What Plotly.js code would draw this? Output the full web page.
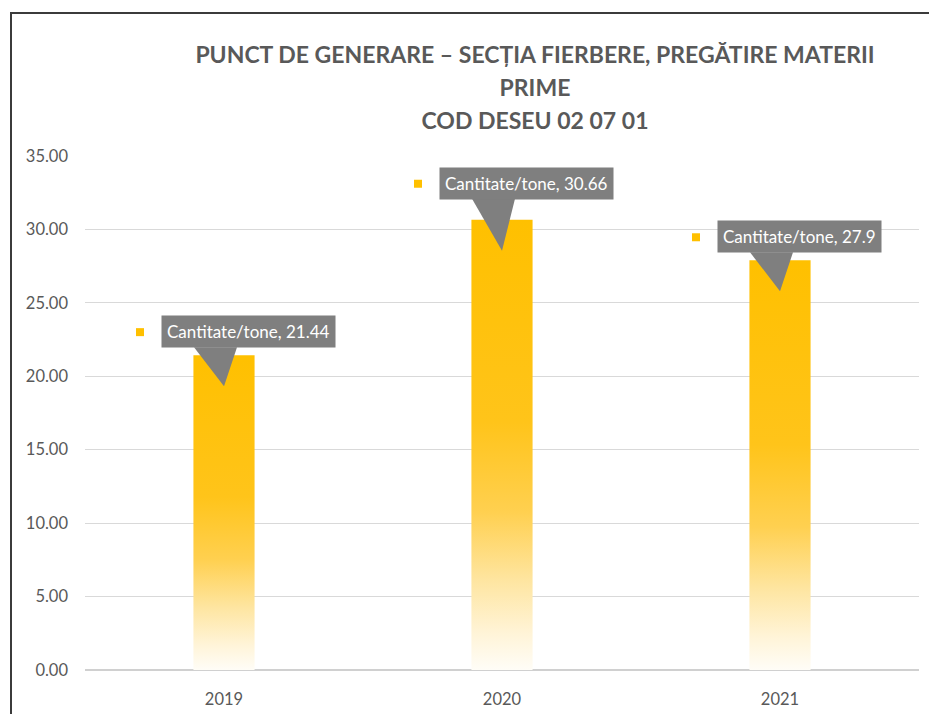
<!DOCTYPE html>
<html>
<head>
<meta charset="utf-8">
<script src="https://cdn.plot.ly/plotly-3.0.1.min.js"></script>
<style>
  html, body { margin: 0; padding: 0; background: #ffffff; overflow: hidden; }
  #chart { position: absolute; left: 0; top: 0; width: 929px; height: 714px; }
  #frame { position: absolute; left: 10px; top: 12px; width: 1000px; height: 1000px;
           border-left: 2px solid #3b3b3b; border-top: 2px solid #3b3b3b; pointer-events: none; }
</style>
</head>
<body>
<div id="chart"></div>
<div id="frame"></div>
<script>
// ---- data ----
const years = ['2019', '2020', '2021'];
const quantities = [21.44, 30.66, 27.9];
const seriesName = 'Cantitate/tone';
const titleLines = ['PUNCT DE GENERARE – SECȚIA FIERBERE, PREGĂTIRE MATERII', 'PRIME', 'COD DESEU 02 07 01'];
const yTickValues = [0, 5, 10, 15, 20, 25, 30, 35];

// ---- style / layout constants ----
const FONT = 'Lato, "Open Sans", sans-serif';
const GREY_TEXT = '#595959';
const GOLD = '#FFC000';
const calloutLiftPx = [7, 20, 7];

const xIdx = years.map((_, i) => i);

const bar = {
  type: 'bar',
  name: seriesName,
  x: xIdx,
  y: quantities,
  width: 0.22,
  marker: { color: GOLD, line: { width: 0 } },
  hoverinfo: 'skip'
};

const annotations = [];
const shapes = [];
quantities.forEach((v, i) => {
  const lift = calloutLiftPx[i];
  annotations.push({
    x: i, y: v, xref: 'x', yref: 'y',
    text: seriesName + ', ' + v,
    showarrow: false,
    xanchor: 'left', yanchor: 'bottom',
    xshift: -63, yshift: lift,
    bgcolor: '#7F7F7F',
    borderpad: 5,
    font: { family: FONT, size: 17, color: '#ffffff' }
  });
  // pointer wedge of the callout
  shapes.push({
    type: 'path', xref: 'x', yref: 'y',
    xsizemode: 'pixel', ysizemode: 'pixel',
    xanchor: i, yanchor: v,
    path: 'M -30 ' + (lift + 1) + ' L 13 ' + (lift + 1) + ' L 0 -31 Z',
    fillcolor: '#7F7F7F', line: { width: 0 }, layer: 'above'
  });
  // legend key square
  shapes.push({
    type: 'rect', xref: 'x', yref: 'y',
    xsizemode: 'pixel', ysizemode: 'pixel',
    xanchor: i, yanchor: v,
    x0: -88, x1: -80, y0: lift + 12, y1: lift + 20,
    fillcolor: GOLD, line: { width: 0 }, layer: 'above'
  });
});

const layout = {
  width: 929, height: 714,
  margin: { l: 85, r: 10, t: 156, b: 44 },
  paper_bgcolor: '#ffffff', plot_bgcolor: '#ffffff',
  showlegend: false,
  font: { family: FONT, color: GREY_TEXT },
  title: {
    text: titleLines.map(t => '<span style="font-size:23px">' + t + '</span>').join('<br>'),
    font: { family: FONT, size: 25.4, color: GREY_TEXT, weight: 'bold' },
    xref: 'container', yref: 'container',
    x: 535 / 929, xanchor: 'center',
    y: 1 - 63 / 714, yanchor: 'top'
  },
  xaxis: {
    range: [-0.5, 2.5],
    tickvals: xIdx, ticktext: years,
    showgrid: false, zeroline: false, showline: false,
    ticks: '', ticklabelstandoff: 17,
    tickfont: { family: FONT, size: 16.5, color: GREY_TEXT },
    fixedrange: true
  },
  yaxis: {
    range: [0, 35],
    tickvals: yTickValues, tickformat: '.2f',
    showgrid: true, gridcolor: '#D9D9D9', gridwidth: 1,
    zeroline: true, zerolinecolor: '#D0D0D0', zerolinewidth: 2,
    showline: false, ticks: '', ticklabelstandoff: 16,
    tickfont: { family: FONT, size: 16.5, color: GREY_TEXT },
    fixedrange: true
  },
  annotations: annotations,
  shapes: shapes
};

Plotly.newPlot('chart', [bar], layout, { displayModeBar: false, staticPlot: true }).then(gd => {
  const svg = gd.querySelector('.main-svg');
  let defs = svg.querySelector('defs');
  const NS = 'http://www.w3.org/2000/svg';
  const grad = document.createElementNS(NS, 'linearGradient');
  grad.setAttribute('id', 'barGrad');
  grad.setAttribute('x1', '0'); grad.setAttribute('y1', '0');
  grad.setAttribute('x2', '0'); grad.setAttribute('y2', '1');
  [[0, '#FFC000'], [0.45, '#FFC41A'], [0.65, '#FFD050'], [0.8, '#FEE5A0'], [0.92, '#FFF4D8'], [1, '#FFFDF7']]
    .forEach(([o, c]) => {
      const s = document.createElementNS(NS, 'stop');
      s.setAttribute('offset', o);
      s.setAttribute('stop-color', c);
      grad.appendChild(s);
    });
  defs.appendChild(grad);
  gd.querySelectorAll('.trace.bars .point path').forEach(p => { p.style.fill = 'url(#barGrad)'; });
});
</script>
</body>
</html>
